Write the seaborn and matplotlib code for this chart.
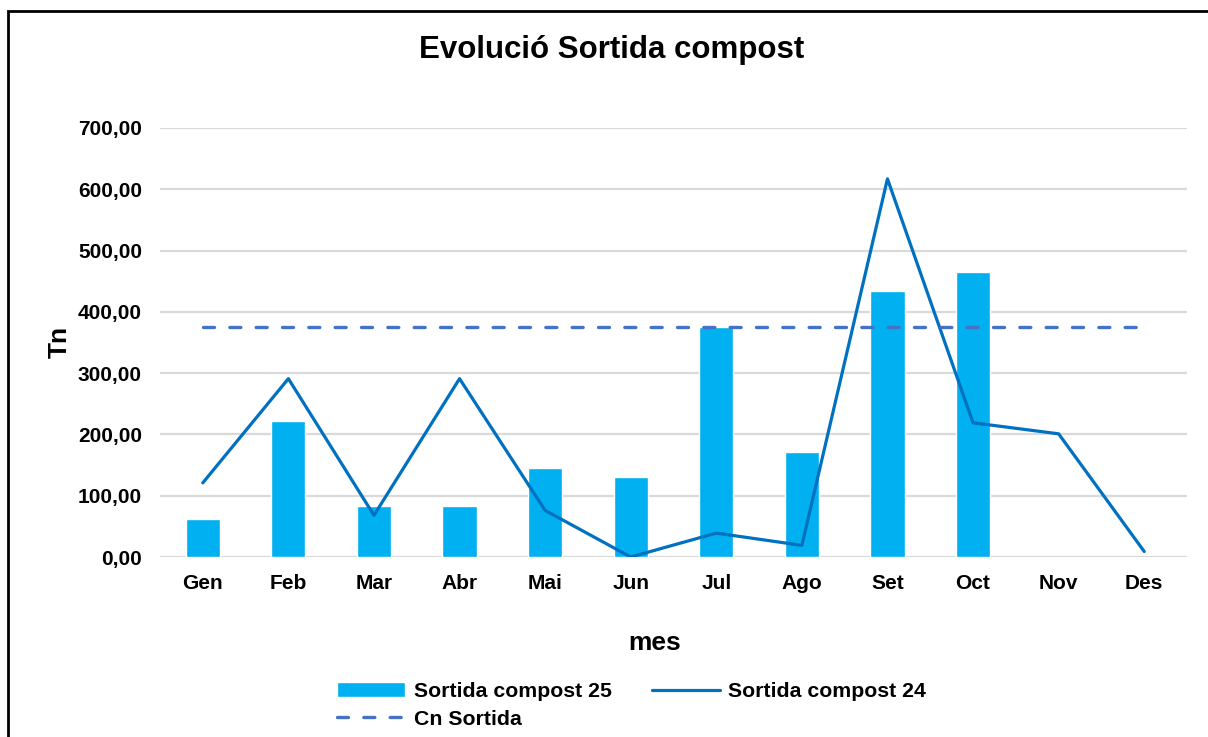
import matplotlib
matplotlib.use("Agg")
import matplotlib.pyplot as plt
import matplotlib.patches as mpatches
from matplotlib.ticker import FuncFormatter, MultipleLocator
import pandas as pd
import seaborn as sns

# data
months = ["Gen", "Feb", "Mar", "Abr", "Mai", "Jun", "Jul", "Ago", "Set", "Oct", "Nov", "Des"]
sortida_25 = [62, 222, 84, 84, 145, 131, 376, 172, 434, 465]  # only up to Oct
sortida_24 = [121, 291, 68, 291, 76, 0, 39, 19, 617, 219, 201, 9]
cn_sortida = 374.5

title = "Evolució Sortida compost"
ylabel = "Tn"
xlabel = "mes"
label_25 = "Sortida compost 25"
label_24 = "Sortida compost 24"
label_cn = "Cn Sortida"

df25 = pd.DataFrame({"mes": months[:len(sortida_25)], "tn": sortida_25})
df24 = pd.DataFrame({"mes": months, "tn": sortida_24})
dfcn = pd.DataFrame({"mes": months, "tn": [cn_sortida] * len(months)})

sns.set_theme(style="white")
plt.rcParams["font.family"] = ["Liberation Sans", "DejaVu Sans"]
plt.rcParams["font.weight"] = "bold"
for key in ["text.color", "axes.labelcolor", "xtick.color", "ytick.color"]:
    plt.rcParams[key] = "black"

fig = plt.figure(figsize=(12.08, 7.37), dpi=100)
ax = fig.add_axes([160 / 1208, 1 - 557 / 737, 1027 / 1208, 429 / 737])

sns.barplot(data=df25, x="mes", y="tn", order=months, color="#00B0F0",
            saturation=1, width=0.4, ax=ax, label=label_25, zorder=2)
sns.lineplot(data=df24, x="mes", y="tn", sort=False, color="#0070C0",
             linewidth=2.3, ax=ax, label=label_24, zorder=3)
sns.lineplot(data=dfcn, x="mes", y="tn", sort=False, color="#4472C4",
             linewidth=2.4, linestyle=(0, (3.3, 4.6)), dash_capstyle="round",
             ax=ax, label=label_cn, zorder=3)

ax.set_xlim(-0.5, len(months) - 0.5)
ax.set_ylim(0, 700)
ax.yaxis.set_major_locator(MultipleLocator(100))
ax.yaxis.set_major_formatter(FuncFormatter(lambda v, p: f"{v:.2f}".replace(".", ",")))
ax.grid(axis="y", color="#D9D9D9", linewidth=1.6, zorder=0)
ax.set_axisbelow(True)
for s in ax.spines.values():
    s.set_visible(False)
ax.tick_params(axis="y", length=0, pad=13, labelsize=15)
ax.tick_params(axis="x", length=0, pad=12, labelsize=15)
for t in ax.get_xticklabels() + ax.get_yticklabels():
    t.set_fontweight("bold")
    t.set_color("#000000")

ax.set_xlabel(xlabel, fontsize=19, fontweight="bold", va="center")
ax.xaxis.set_label_coords((655 - 160) / 1027, (557 - 643) / 429)
ax.set_ylabel(ylabel, fontsize=19, fontweight="bold", va="center")
ax.yaxis.set_label_coords((60 - 160) / 1027, (557 - 342) / 429)

fig.text(612 / 1208, 1 - 50 / 737, title, ha="center", va="center",
         fontsize=22.5, fontweight="bold")

handles, labels = ax.get_legend_handles_labels()
ax.get_legend().remove()
lookup = dict(zip(labels, handles))
order = [label_25, label_cn, label_24]
fig.legend([lookup[k] for k in order], order, ncol=2, frameon=False,
           loc="upper left", bbox_to_anchor=(337 / 1208, 1 - 682 / 737),
           prop={"weight": "bold", "size": 15.3},
           handlelength=3.2, handletextpad=0.4, columnspacing=1.9,
           labelspacing=0.42, borderpad=0, borderaxespad=0)

# outer chart border (cropped at right and bottom like the reference)
fig.patches.append(mpatches.Rectangle((8 / 1208, -0.1), 1.2, 1.1 - 11 / 737,
                                      transform=fig.transFigure, fill=False,
                                      edgecolor="black", linewidth=2))

fig.savefig("out.png", dpi=100)
